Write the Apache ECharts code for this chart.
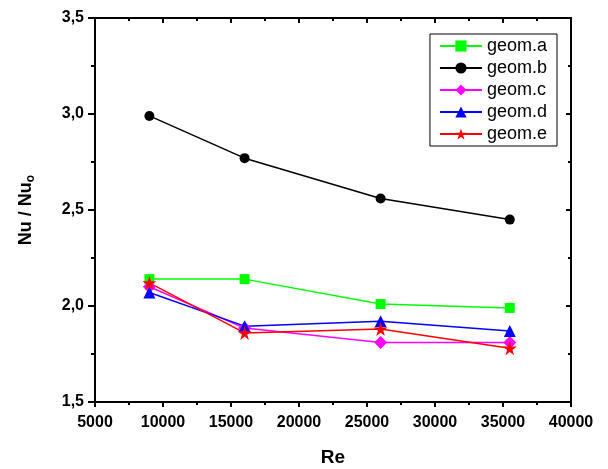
<!DOCTYPE html>
<html>
<head>
<meta charset="utf-8">
<script src="https://cdn.jsdelivr.net/npm/echarts@6/dist/echarts.min.js"></script>
<style>html,body{margin:0;padding:0;background:#fff}#c{width:608px;height:469px}</style>
</head>
<body>
<div id="c"></div>
<script>
var reValues = [9000, 16000, 26000, 35500];
var geomA = [2.14, 2.14, 2.01, 1.99];
var geomB = [2.99, 2.77, 2.56, 2.45];
var geomC = [2.10, 1.885, 1.81, 1.81];
var geomD = [2.07, 1.895, 1.92, 1.87];
var geomE = [2.12, 1.86, 1.88, 1.78];
var seriesNames = ['geom.a', 'geom.b', 'geom.c', 'geom.d', 'geom.e'];
var seriesColors = ['#00ff00', '#000000', '#ff00ff', '#0000ff', '#ff0000'];
var xTicks = {min: 5000, max: 40000, interval: 5000};
var yTicks = {min: 1.5, max: 3.5, interval: 0.5};

var star = 'path://M50 0 L61.23 34.55 L97.55 34.55 L68.17 55.9 L79.39 90.45 L50 69.1 L20.61 90.45 L31.83 55.9 L2.45 34.55 L38.77 34.55 Z';
var symbols = ['rect', 'circle', 'diamond', 'triangle', star];
var sizes = [10, 10, 13, 12, 14];
var allData = [geomA, geomB, geomC, geomD, geomE];

function pairs(v) { return reValues.map(function (x, i) { return [x, v[i]]; }); }

var font = 'Arial, "Liberation Sans", sans-serif';
var chart = echarts.init(document.getElementById('c'));
var axisLine = {show: true, lineStyle: {color: '#000', width: 2}};
chart.setOption({
  animation: false,
  grid: {left: 95, right: 37, top: 18, bottom: 67, outerBoundsMode: 'none', containLabel: false},
  legend: {
    orient: 'vertical', right: 51, top: 34,
    backgroundColor: '#fff', borderColor: '#000', borderWidth: 1,
    padding: [3, 10, 3, 9], itemGap: 4, itemWidth: 42, itemHeight: 14,
    textStyle: {fontFamily: font, fontSize: 18, color: '#000', lineHeight: 18},
    data: seriesNames
  },
  xAxis: [{
    type: 'value', min: xTicks.min, max: xTicks.max, interval: xTicks.interval,
    name: 'Re', nameLocation: 'middle', nameGap: 46,
    nameTextStyle: {fontFamily: font, fontSize: 19, fontWeight: 'bold', color: '#000'},
    axisLine: axisLine,
    axisTick: {show: true, length: 5, lineStyle: {color: '#000', width: 2}},
    minorTick: {show: true, splitNumber: 2, length: 3, lineStyle: {color: '#000', width: 2}},
    axisLabel: {fontFamily: font, fontSize: 16, fontWeight: 'bold', color: '#000', margin: 13,
      formatter: function (v) { return String(v); }},
    splitLine: {show: false}
  }, {
    type: 'value', position: 'top', min: xTicks.min, max: xTicks.max, interval: xTicks.interval,
    axisLine: axisLine,
    axisTick: {show: true, inside: true, length: 5, lineStyle: {color: '#000', width: 2}},
    minorTick: {show: true, splitNumber: 2, length: 3, lineStyle: {color: '#000', width: 2}},
    axisLabel: {show: false}, splitLine: {show: false}
  }],
  yAxis: [{
    type: 'value', min: yTicks.min, max: yTicks.max, interval: yTicks.interval,
    name: '{a|Nu / Nu}{b|o}', nameLocation: 'middle', nameGap: 58, nameRotate: 90,
    nameTextStyle: {rich: {
      a: {fontFamily: font, fontSize: 18, fontWeight: 'bold', color: '#000'},
      b: {fontFamily: font, fontSize: 12, fontWeight: 'bold', color: '#000', verticalAlign: 'bottom', padding: [9, 0, 0, 0]}
    }},
    axisLine: axisLine,
    axisTick: {show: true, length: 7, lineStyle: {color: '#000', width: 2}},
    minorTick: {show: true, splitNumber: 2, length: 4, lineStyle: {color: '#000', width: 2}},
    axisLabel: {fontFamily: font, fontSize: 16, fontWeight: 'bold', color: '#000', margin: 11,
      formatter: function (v) { return v.toFixed(1).replace('.', ','); }},
    splitLine: {show: false}
  }, {
    type: 'value', position: 'right', min: yTicks.min, max: yTicks.max, interval: yTicks.interval,
    axisLine: axisLine,
    axisTick: {show: true, inside: true, length: 5, lineStyle: {color: '#000', width: 2}},
    minorTick: {show: true, splitNumber: 2, length: 3, lineStyle: {color: '#000', width: 2}},
    axisLabel: {show: false}, splitLine: {show: false}
  }],
  series: seriesNames.map(function (n, i) {
    return {
      name: n, type: 'line', data: pairs(allData[i]),
      symbol: symbols[i], symbolSize: sizes[i], showAllSymbol: true,
      itemStyle: {color: seriesColors[i]},
      lineStyle: {color: seriesColors[i], width: 1.5}
    };
  })
});
</script>
</body>
</html>
